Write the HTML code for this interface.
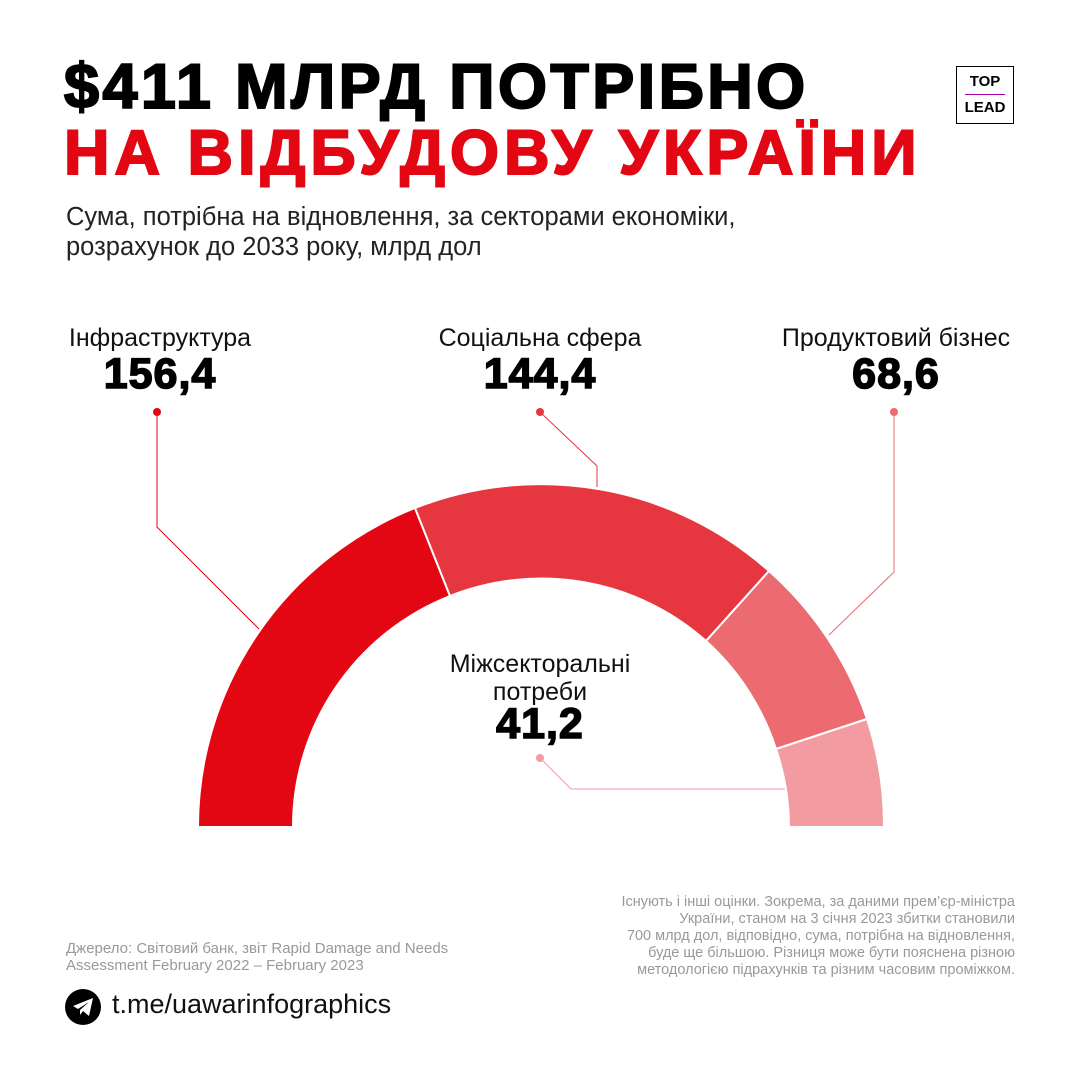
<!DOCTYPE html>
<html><head><meta charset="utf-8"><style>
body{margin:0;width:1080px;height:1080px;background:#fff;font-family:"Liberation Sans",sans-serif;position:relative;overflow:hidden}
.t{position:absolute;white-space:nowrap}
.h{font-weight:900;font-size:63px;-webkit-text-stroke:2px currentColor}
.lab{font-size:25px;color:#111;text-align:center;transform:translateX(-50%)}
.val{font-size:43px;font-weight:900;color:#000;text-align:center;transform:translateX(-50%);-webkit-text-stroke:1.5px #000;letter-spacing:1px}
</style></head><body>
<div class="t h" style="left:64px;top:51px;color:#000;letter-spacing:3.4px">$411 МЛРД ПОТРІБНО</div>
<div class="t h" style="left:64px;top:117px;color:#e30613;letter-spacing:5px">НА ВІДБУДОВУ УКРАЇНИ</div>
<div style="position:absolute;left:956px;top:66px;width:58px;height:58px;border:1.5px solid #000;box-sizing:border-box;text-align:center;font-size:15px;font-weight:bold">
<div style="margin-top:6px">TOP</div><div style="height:1px;background:#a0a;margin:4px 8px"></div><div>LEAD</div></div>
<div class="t" style="left:66px;top:202px;font-size:25.5px;line-height:30px;color:#222">Сума, потрібна на відновлення, за секторами економіки,<br>розрахунок до 2033 року, млрд дол</div>
<svg style="position:absolute;left:0;top:0" width="1080" height="1080">
<g stroke="#fff" stroke-width="2">
<path d="M198 827 A343 343 0 0 1 415 508 L450 596 A248 248 0 0 0 293 827Z" fill="#e30613"/>
<path d="M415 508 A343 343 0 0 1 769 571 L706 641 A248 248 0 0 0 450 596Z" fill="#e63740"/>
<path d="M769 571 A343 343 0 0 1 867 719 L776 749 A248 248 0 0 0 706 641Z" fill="#ec6b70"/>
<path d="M867 719 A343 343 0 0 1 884 827 L789 827 A248 248 0 0 0 776 749Z" fill="#f29ca1"/>
</g>
<g fill="none" stroke-width="1">
<polyline points="157,412 157,527 259,629" stroke="#e30613"/>
<polyline points="540,412 597,466 597,487" stroke="#e63740"/>
<polyline points="894,412 894,572 829,635" stroke="#ec6b70"/>
<polyline points="540,758 571,789 785,789" stroke="#f29ca1"/>
</g>
<circle cx="157" cy="412" r="4" fill="#e30613"/>
<circle cx="540" cy="412" r="4" fill="#e63740"/>
<circle cx="894" cy="412" r="4" fill="#ec6b70"/>
<circle cx="540" cy="758" r="4" fill="#f29ca1"/>
<circle cx="83" cy="1007" r="18" fill="#000"/>
<path d="M73 1006 L93 998 L89 1016 L83 1011 L80 1015 L80 1010 L89 1002 L78 1009Z" fill="#fff"/>
</svg>
<div class="t lab" style="left:160px;top:324px">Інфраструктура</div>
<div class="t val" style="left:160px;top:350px">156,4</div>
<div class="t lab" style="left:540px;top:324px">Соціальна сфера</div>
<div class="t val" style="left:540px;top:350px">144,4</div>
<div class="t lab" style="left:896px;top:324px">Продуктовий бізнес</div>
<div class="t val" style="left:896px;top:350px">68,6</div>
<div class="t lab" style="left:540px;top:650px;line-height:28px">Міжсекторальні<br>потреби</div>
<div class="t val" style="left:540px;top:700px">41,2</div>
<div class="t" style="left:66px;top:940px;font-size:15px;line-height:17px;color:#999">Джерело: Світовий банк, звіт Rapid Damage and Needs<br>Assessment February 2022 – February 2023</div>
<div class="t" style="right:65px;top:894px;font-size:14.5px;line-height:17px;color:#999;text-align:right">Існують і інші оцінки. Зокрема, за даними прем’єр-міністра<br>України, станом на 3 січня 2023 збитки становили<br>700 млрд дол, відповідно, сума, потрібна на відновлення,<br>буде ще більшою. Різниця може бути пояснена різною<br>методологією підрахунків та різним часовим проміжком.</div>
<div class="t" style="left:112px;top:989px;font-size:27px;color:#111">t.me/uawarinfographics</div>
</body></html>
